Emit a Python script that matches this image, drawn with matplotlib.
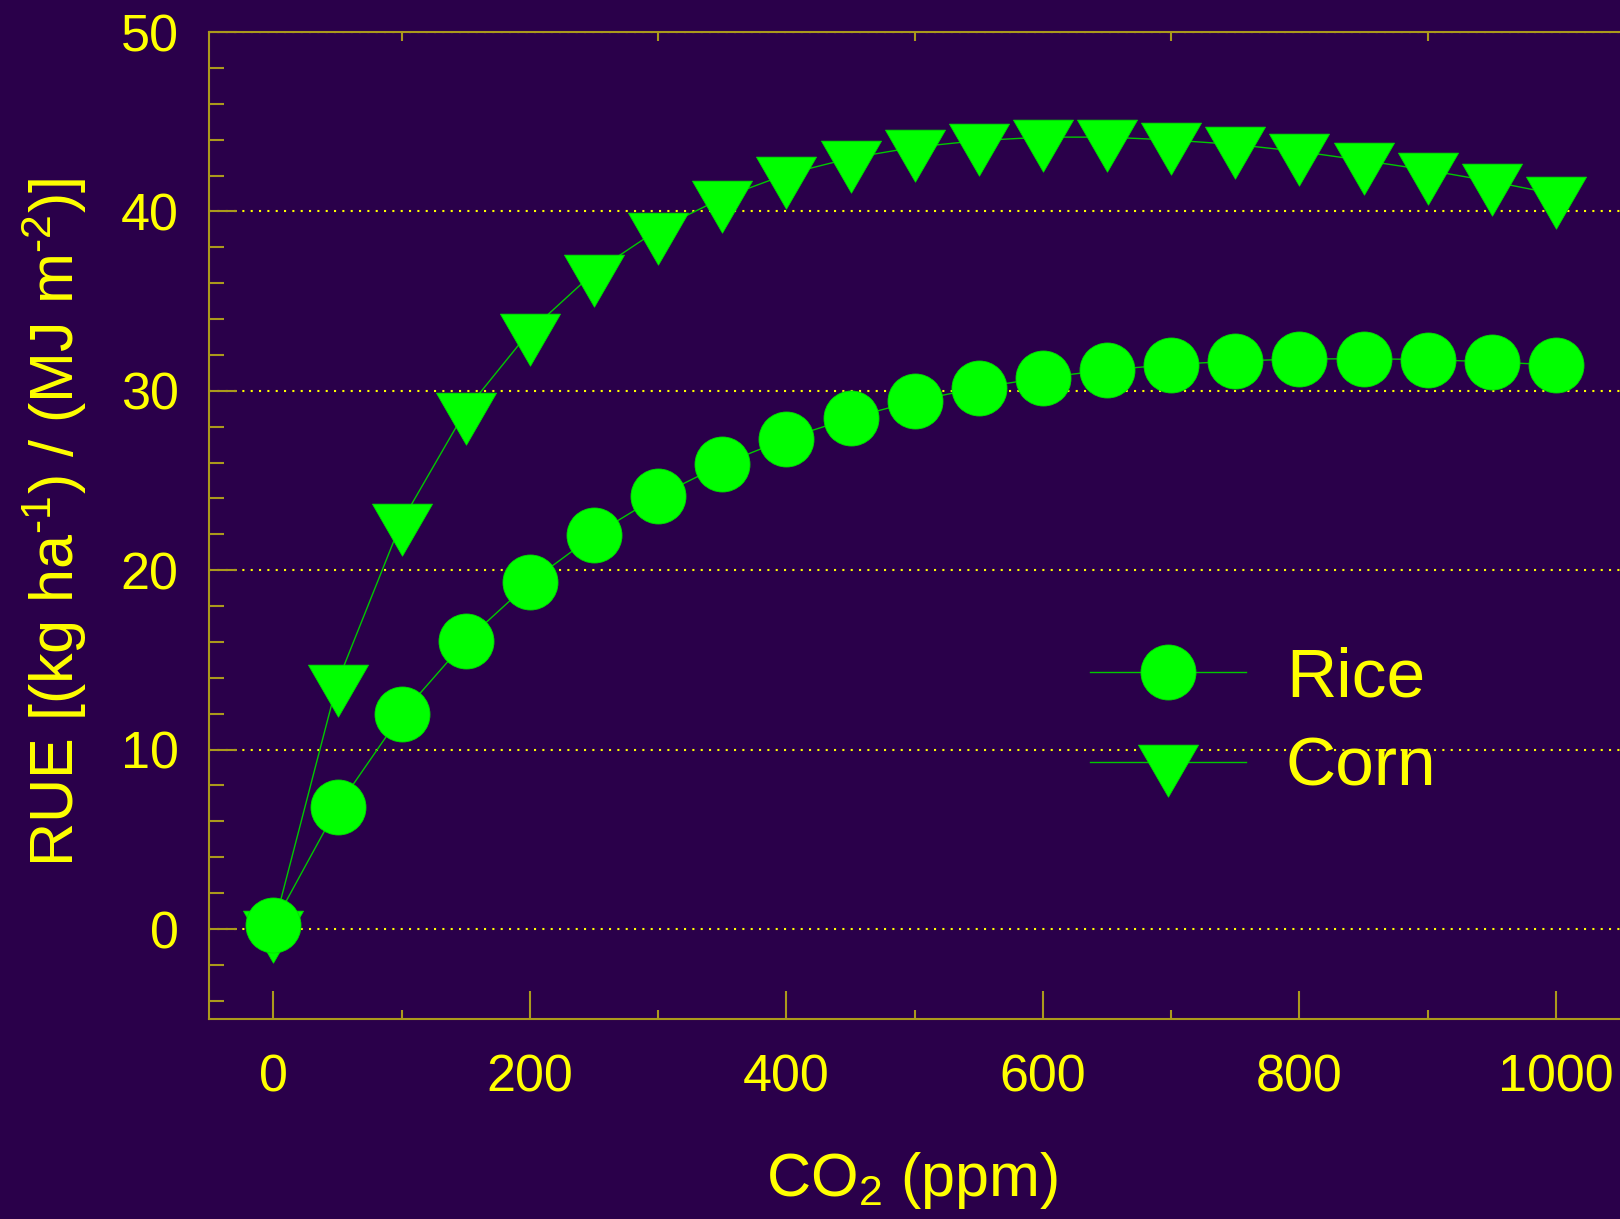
import matplotlib
matplotlib.use("Agg")
import matplotlib.pyplot as plt
from matplotlib.ticker import MultipleLocator, FixedLocator
from matplotlib.path import Path

plt.rcParams['font.family'] = ['Liberation Sans', 'DejaVu Sans']
plt.rcParams['mathtext.fontset'] = 'custom'
plt.rcParams['mathtext.rm'] = 'Liberation Sans'
plt.rcParams['mathtext.it'] = 'Liberation Sans:italic'
plt.rcParams['mathtext.bf'] = 'Liberation Sans:bold'

# ---- data ----
co2 = [0, 50, 100, 150, 200, 250, 300, 350, 400, 450, 500,
       550, 600, 650, 700, 750, 800, 850, 900, 950, 1000]
rice = [0.25, 6.8, 11.97, 16.05, 19.32, 21.96, 24.13, 25.9, 27.33, 28.48, 29.43,
        30.17, 30.73, 31.16, 31.46, 31.66, 31.77, 31.79, 31.74, 31.61, 31.44]
corn = [0.05, 13.78, 22.72, 28.91, 33.33, 36.6, 38.99, 40.75, 42.07, 42.97, 43.58,
        43.95, 44.14, 44.14, 43.98, 43.73, 43.34, 42.84, 42.3, 41.67, 40.96]
series_names = ["Rice", "Corn"]
x_ticks = [0, 200, 400, 600, 800, 1000]
y_ticks = [0, 10, 20, 30, 40, 50]

BG = '#2a004a'
SPINE = '#ab9a1c'
YEL = '#ffff00'
GREEN = '#00ff00'
LINEG = '#00c800'

W, H = 1620, 1219
fig = plt.figure(figsize=(W / 100, H / 100), dpi=100, facecolor=BG)
left, right, bottom, top = 209.3, 1620.0, 1018.7, 32.0
ax = fig.add_axes([left / W, 1 - bottom / H, (right - left) / W, (bottom - top) / H])
ax.set_facecolor(BG)

# custom down triangle with centroid at the data point
tri = Path([(-30, 17.33), (30, 17.33), (0, -34.67), (-30, 17.33)],
           [Path.MOVETO, Path.LINETO, Path.LINETO, Path.CLOSEPOLY])
px2pt = 72 / 100
ms_tri = 2 * 34.67 * px2pt
ms_circ = 55 * px2pt

ax.plot(co2, corn, color=LINEG, lw=1.0, marker=tri, ms=ms_tri,
        mfc=GREEN, mec='#00e000', mew=0.6, label=series_names[1], zorder=3)
ax.plot(co2, rice, color=LINEG, lw=1.0, marker='o', ms=ms_circ,
        mfc=GREEN, mec='#00e000', mew=0.6, label=series_names[0], zorder=4)

ax.set_xlim(-50, 1050)
ax.set_ylim(-5, 50)
ax.xaxis.set_major_locator(FixedLocator(x_ticks))
ax.xaxis.set_minor_locator(MultipleLocator(100))
ax.yaxis.set_major_locator(FixedLocator(y_ticks))
ax.yaxis.set_minor_locator(MultipleLocator(2))

for s in ['left', 'bottom', 'top']:
    ax.spines[s].set_color(SPINE)
    ax.spines[s].set_linewidth(1.5)
ax.spines['right'].set_visible(False)

ax.tick_params(axis='both', which='both', direction='in', color=SPINE,
               labelcolor=YEL, labelsize=37.5, width=1.5)
ax.tick_params(axis='x', which='major', length=20, pad=25, top=False)
ax.tick_params(axis='x', which='minor', length=6.5, top=True, bottom=True)
ax.tick_params(axis='y', which='major', length=20, pad=22, right=False)
ax.tick_params(axis='y', which='minor', length=10.8, right=False)

ax.yaxis.grid(True, which='major', color=YEL, linestyle=(0, (1, 3)), lw=1.5)
ax.set_axisbelow(True)

fig.text(912 / W, 1 - 1196 / H, r'CO$_\text{2}$ (ppm)', color=YEL, fontsize=44,
         ha='center', va='baseline')
fig.text(74 / W, 1 - 522 / H, r'RUE [(kg ha$^{\text{-1}}$) / (MJ m$^{\text{-2}}$)]',
         color=YEL, fontsize=44, rotation=90, rotation_mode='anchor',
         ha='center', va='baseline')

handles, labels = ax.get_legend_handles_labels()
order = [1, 0]
leg = ax.legend([handles[i] for i in order], [labels[i] for i in order],
                loc='center left', bbox_to_anchor=(1090 / W, 1 - 723 / H),
                bbox_transform=fig.transFigure, frameon=False, fontsize=50,
                handlelength=2.25, handletextpad=0.57, labelspacing=0.37,
                borderaxespad=0, borderpad=0, numpoints=1)
for t in leg.get_texts():
    t.set_color(YEL)

fig.savefig('out.png', dpi=100, facecolor=BG)
